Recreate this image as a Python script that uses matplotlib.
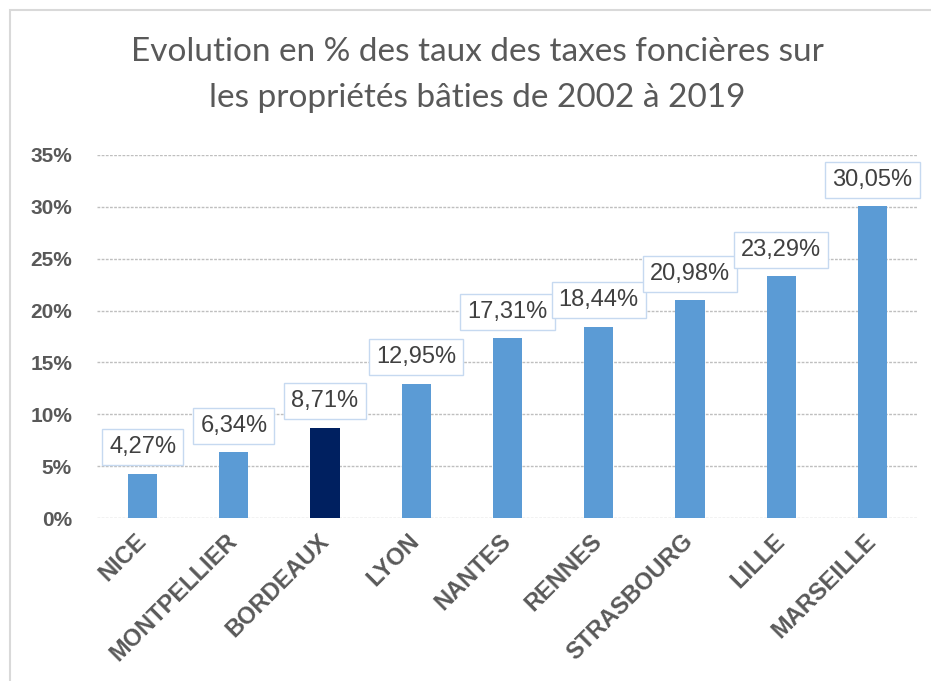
import matplotlib.pyplot as plt
from matplotlib.patches import Rectangle
from matplotlib.ticker import FuncFormatter

cities = ["NICE", "MONTPELLIER", "BORDEAUX", "LYON", "NANTES",
          "RENNES", "STRASBOURG", "LILLE", "MARSEILLE"]
values = [4.27, 6.34, 8.71, 12.95, 17.31, 18.44, 20.98, 23.29, 30.05]
highlight = "BORDEAUX"

BLUE = "#5b9bd5"
NAVY = "#002060"
GREY = "#595959"

W, H = 931, 681
fig = plt.figure(figsize=(W / 100, H / 100), dpi=100)
fig.patch.set_facecolor("white")

# chart frame (only left and top edges are visible in the image)
fig.patches.append(Rectangle((10 / W, -0.1), 1.2, 1.1 - 10 / H,
                             transform=fig.transFigure, fill=False,
                             edgecolor="#d9d9d9", linewidth=1.5))

ax = fig.add_axes([97 / W, 1 - 518 / H, (918 - 97) / W, (518 - 155) / H])

colors = [NAVY if c == highlight else BLUE for c in cities]
x = range(len(cities))
ax.bar(x, values, width=0.32, color=colors, zorder=3)

ax.set_xlim(-0.5, len(cities) - 0.5)
ax.set_ylim(0, 35)
ax.set_yticks(range(0, 36, 5))
ax.yaxis.set_major_formatter(FuncFormatter(lambda v, p: f"{v:.0f}%"))
ax.grid(axis="y", color="#bfbfbf", linestyle=(0, (2, 1)), linewidth=1, zorder=0)

for s in ax.spines.values():
    s.set_visible(False)
ax.tick_params(length=0)
ax.tick_params(axis="y", pad=18, labelsize=15, labelcolor=GREY)
for lab in ax.get_yticklabels():
    lab.set_fontweight("bold")
    lab.set_fontfamily("Liberation Sans")

ax.set_xticks(list(x))
ax.set_xticklabels(cities, rotation=45, ha="right", va="center",
                   rotation_mode="anchor", fontsize=17, fontweight="bold",
                   color=GREY, family="Liberation Sans")
ax.tick_params(axis="x", pad=14)

for i, v in enumerate(values):
    ax.annotate(f"{v:.2f}%".replace(".", ","), (i, v), xytext=(0, 19),
                textcoords="offset points", ha="center", va="center",
                fontsize=17, color="#404040", family="Liberation Sans",
                bbox=dict(boxstyle="square,pad=0.3", facecolor="white",
                          edgecolor="#c6d9f0", linewidth=1),
                zorder=5)

fig.text(477 / W, 1 - 52 / H, "Evolution en % des taux des taxes foncières sur",
         ha="center", va="center", fontsize=24, color=GREY, family="Lato")
fig.text(477 / W, 1 - 98 / H, "les propriétés bâties de 2002 à 2019",
         ha="center", va="center", fontsize=24, color=GREY, family="Lato")

fig.savefig("out.png", dpi=100)
